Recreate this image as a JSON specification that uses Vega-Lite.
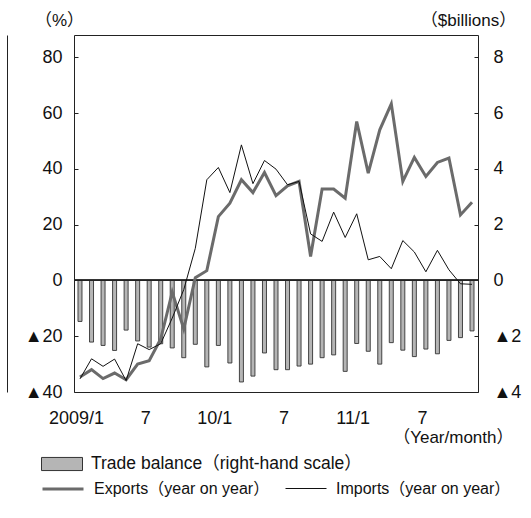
{
  "$schema": "https://vega.github.io/schema/vega-lite/v6.json",
  "width": 404,
  "height": 357,
  "autosize": {"type": "none"},
  "padding": {"left": 74, "top": 35, "right": 53, "bottom": 126},
  "background": "white",
  "config": {
    "font": "Liberation Sans, Arial, Noto Sans CJK JP, sans-serif",
    "view": {"stroke": "#222", "strokeWidth": 1},
    "axis": {
      "labelFont": "Liberation Sans, Arial, Noto Sans CJK JP, sans-serif",
      "titleFont": "Liberation Sans, Arial, Noto Sans CJK JP, sans-serif",
      "labelColor": "#111",
      "titleColor": "#111",
      "labelFontSize": 18,
      "titleFontSize": 17,
      "titleFontWeight": "normal",
      "domain": false,
      "grid": false,
      "tickColor": "#222"
    },
    "legend": {
      "labelFont": "Liberation Sans, Arial, Noto Sans CJK JP, sans-serif",
      "labelColor": "#111",
      "padding": 0,
      "labelLimit": 400
    }
  },
  "data": {
    "values": [
      {"month": "2009-01", "balance": -1.47, "exports": -34.6, "imports": -35.3},
      {"month": "2009-02", "balance": -2.21, "exports": -32.0, "imports": -28.1},
      {"month": "2009-03", "balance": -2.33, "exports": -35.2, "imports": -30.8},
      {"month": "2009-04", "balance": -2.51, "exports": -33.2, "imports": -28.2},
      {"month": "2009-05", "balance": -1.78, "exports": -35.6, "imports": -35.9},
      {"month": "2009-06", "balance": -2.17, "exports": -30.0, "imports": -22.7},
      {"month": "2009-07", "balance": -2.39, "exports": -28.8, "imports": -24.8},
      {"month": "2009-08", "balance": -2.27, "exports": -21.0, "imports": -22.7},
      {"month": "2009-09", "balance": -2.42, "exports": -4.2, "imports": -13.5},
      {"month": "2009-10", "balance": -2.77, "exports": -17.4, "imports": -3.3},
      {"month": "2009-11", "balance": -2.29, "exports": 1.0, "imports": 11.5},
      {"month": "2009-12", "balance": -3.10, "exports": 3.5, "imports": 36.1},
      {"month": "2010-01", "balance": -2.33, "exports": 22.9, "imports": 40.5},
      {"month": "2010-02", "balance": -2.96, "exports": 27.7, "imports": 31.5},
      {"month": "2010-03", "balance": -3.64, "exports": 36.1, "imports": 48.6},
      {"month": "2010-04", "balance": -3.43, "exports": 31.5, "imports": 34.7},
      {"month": "2010-05", "balance": -2.60, "exports": 38.7, "imports": 43.0},
      {"month": "2010-06", "balance": -3.20, "exports": 30.4, "imports": 39.9},
      {"month": "2010-07", "balance": -3.20, "exports": 33.9, "imports": 34.3},
      {"month": "2010-08", "balance": -3.07, "exports": 35.5, "imports": 35.5},
      {"month": "2010-09", "balance": -3.00, "exports": 8.6, "imports": 16.7},
      {"month": "2010-10", "balance": -2.77, "exports": 32.8, "imports": 14.0},
      {"month": "2010-11", "balance": -2.67, "exports": 32.8, "imports": 24.5},
      {"month": "2010-12", "balance": -3.26, "exports": 29.5, "imports": 15.4},
      {"month": "2011-01", "balance": -2.26, "exports": 57.0, "imports": 23.9},
      {"month": "2011-02", "balance": -2.54, "exports": 38.5, "imports": 7.4},
      {"month": "2011-03", "balance": -3.00, "exports": 54.0, "imports": 8.6},
      {"month": "2011-04", "balance": -2.23, "exports": 63.3, "imports": 4.2},
      {"month": "2011-05", "balance": -2.50, "exports": 35.5, "imports": 14.3},
      {"month": "2011-06", "balance": -2.73, "exports": 44.1, "imports": 10.2},
      {"month": "2011-07", "balance": -2.46, "exports": 37.3, "imports": 3.1},
      {"month": "2011-08", "balance": -2.63, "exports": 42.3, "imports": 10.8},
      {"month": "2011-09", "balance": -2.15, "exports": 43.9, "imports": 3.8},
      {"month": "2011-10", "balance": -2.05, "exports": 23.5, "imports": -1.2},
      {"month": "2011-11", "balance": -1.81, "exports": 28.0, "imports": -1.4}
    ]
  },
  "layer": [
    {
      "mark": {"type": "bar", "width": 4, "stroke": "#333", "strokeWidth": 0.9},
      "encoding": {
        "x": {
          "field": "month",
          "type": "ordinal",
          "scale": {"type": "point", "padding": 0.52},
          "axis": {
            "orient": "bottom",
            "values": ["2009-01", "2009-07", "2010-01", "2010-07", "2011-01", "2011-07"],
            "labelExpr": "datum.value == '2009-01' ? '2009/1' : datum.value == '2010-01' ? '10/1' : datum.value == '2011-01' ? '11/1' : '7'",
            "labelAngle": 0,
            "ticks": false,
            "tickSize": 0,
            "labelPadding": 17,
            "labelOffset": -4,
            "title": "（Year/month）",
            "titleAlign": "right",
            "titleBaseline": "top",
            "titleX": 439,
            "titleY": 37
          }
        },
        "y": {
          "field": "balance",
          "type": "quantitative",
          "scale": {"domain": [-4, 8.8], "nice": false, "zero": false},
          "axis": {
            "orient": "right",
            "values": [-4, -2, 0, 2, 4, 6, 8],
            "labelExpr": "datum.value < 0 ? '▲' + abs(datum.value) : datum.label",
            "tickSize": -4,
            "labelPadding": 19,
            "title": "（$billions）",
            "titleAngle": 0,
            "titleAlign": "center",
            "titleBaseline": "middle",
            "titleX": -10,
            "titleY": -15
          }
        },
        "fill": {
          "datum": "Trade balance（right-hand scale）",
          "scale": {"range": ["#b5b5b5"]},
          "legend": {
            "title": null,
            "orient": "none",
            "legendX": -33,
            "legendY": 408,
            "symbolType": "M-1,-0.32H1V0.32H-1Z",
            "symbolSize": 1681,
            "symbolStrokeColor": "#333",
            "symbolStrokeWidth": 1,
            "labelFontSize": 17.5,
            "labelOffset": 8
          }
        }
      }
    },
    {
      "mark": {"type": "rule", "color": "#222", "strokeWidth": 1},
      "encoding": {
        "y": {
          "datum": 0,
          "type": "quantitative",
          "scale": {"domain": [-40, 88], "nice": false, "zero": false},
          "axis": {
            "orient": "left",
            "offset": 67,
            "domain": true,
            "domainColor": "#222",
            "domainWidth": 1,
            "ticks": false,
            "labels": false,
            "title": null
          }
        }
      }
    },
    {
      "transform": [{"fold": ["exports", "imports"], "as": ["series", "value"]}],
      "mark": {"type": "line"},
      "encoding": {
        "x": {"field": "month", "type": "ordinal"},
        "y": {
          "field": "value",
          "type": "quantitative",
          "scale": {"domain": [-40, 88], "nice": false, "zero": false},
          "axis": {
            "orient": "left",
            "values": [-40, -20, 0, 20, 40, 60, 80],
            "labelExpr": "datum.value < 0 ? '▲' + abs(datum.value) : datum.label",
            "tickSize": -4,
            "labelPadding": 16,
            "title": "（%）",
            "titleAngle": 0,
            "titleAlign": "center",
            "titleBaseline": "middle",
            "titleX": -15,
            "titleY": -15
          }
        },
        "stroke": {
          "field": "series",
          "type": "nominal",
          "scale": {"domain": ["exports", "imports"], "range": ["#6b6b6b", "#111111"]},
          "legend": {
            "title": null,
            "orient": "none",
            "legendX": -33,
            "legendY": 432,
            "direction": "horizontal",
            "symbolType": "stroke",
            "symbolSize": 1681,
            "columnPadding": 13,
            "labelOffset": 9,
            "labelFontSize": 16,
            "labelExpr": "datum.label == 'exports' ? 'Exports（year on year）' : 'Imports（year on year）'"
          }
        },
        "strokeWidth": {
          "field": "series",
          "type": "nominal",
          "scale": {"domain": ["exports", "imports"], "range": [3, 1]}
        }
      }
    }
  ],
  "resolve": {"scale": {"y": "independent"}, "axis": {"y": "independent"}}
}
